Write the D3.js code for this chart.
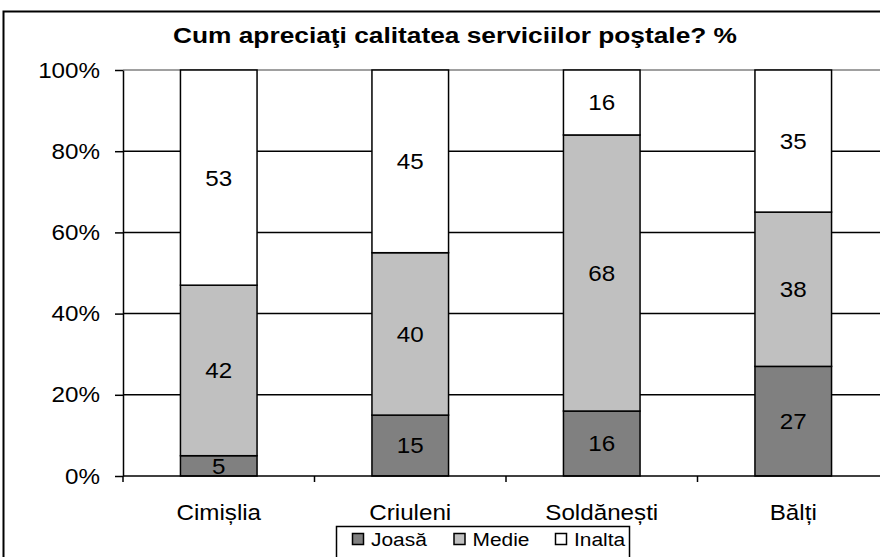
<!DOCTYPE html>
<html>
<head>
<meta charset="utf-8">
<script src="https://cdn.jsdelivr.net/npm/d3@7"></script>
<style>
  html, body { margin: 0; padding: 0; background: #fff; }
  svg { display: block; font-family: Arial, "Liberation Sans", sans-serif; }
</style>
</head>
<body>
<svg id="chart" width="880" height="557"></svg>
<script>
// chart data
const categories = ['Cimișlia', 'Criuleni', 'Soldănești', 'Bălți'];
const seriesNames = ['Joasă', 'Medie', 'Inalta'];
const joasa = [5, 15, 16, 27];
const medie = [42, 40, 68, 38];
const inalta = [53, 45, 16, 35];
const yTicks = [0, 0.2, 0.4, 0.6, 0.8, 1];
const title = 'Cum apreciaţi calitatea serviciilor poştale? %';

const colors = { 'Joasă': '#808080', 'Medie': '#c0c0c0', 'Inalta': '#ffffff' };
const SX = 1.1; // text is a little wider than normal

const svg = d3.select('#chart');
const M = { left: 123, top: 70, right: 889, bottom: 476 };

// build rows for stacking
const rows = categories.map((c, i) => ({ cat: c, 'Joasă': joasa[i], 'Medie': medie[i], 'Inalta': inalta[i] }));
const stack = d3.stack().keys(seriesNames).offset(d3.stackOffsetExpand);
const layers = stack(rows);

const x = d3.scaleBand().domain(categories).range([M.left, M.right]).paddingInner(0.6).paddingOuter(0.3);
const y = d3.scaleLinear().domain([0, 1]).range([M.bottom, M.top]);

// outer chart border
svg.append('rect').attr('x', 3.5).attr('y', 11.5).attr('width', 900).attr('height', 600)
    .attr('fill', 'none').attr('stroke', '#000').attr('stroke-width', 2);

// title
svg.append('text').attr('x', 455).attr('y', 43).attr('text-anchor', 'middle')
    .attr('font-size', 22).attr('font-weight', 'bold').attr('fill', '#000')
    .attr('textLength', 564).attr('lengthAdjust', 'spacingAndGlyphs').text(title);

// gridlines
svg.append('g').selectAll('line').data(yTicks.filter(t => t > 0))
    .join('line')
    .attr('x1', M.left).attr('x2', M.right)
    .attr('y1', d => y(d)).attr('y2', d => y(d))
    .attr('stroke', d => d === 1 ? '#808080' : '#000').attr('stroke-width', 1.5);

// y axis
const yAxis = svg.append('g').attr('transform', `translate(${M.left},0)`)
    .call(d3.axisLeft(y).tickValues(yTicks).tickSize(8).tickSizeOuter(0).tickFormat(d3.format('.0%')));
yAxis.select('.domain').attr('stroke', '#000').attr('stroke-width', 1.5);
yAxis.selectAll('.tick line').attr('stroke', '#000').attr('stroke-width', 1.5);
yAxis.selectAll('.tick text').attr('x', -23 / SX).attr('font-size', 22).attr('fill', '#000')
    .attr('font-family', 'Arial, "Liberation Sans", sans-serif').attr('transform', `scale(${SX},1)`);

// bars
const barG = svg.append('g');
layers.forEach(layer => {
    barG.append('g').selectAll('rect').data(layer).join('rect')
        .attr('x', d => x(d.data.cat))
        .attr('width', x.bandwidth())
        .attr('y', d => y(d[1]))
        .attr('height', d => y(d[0]) - y(d[1]))
        .attr('fill', colors[layer.key])
        .attr('stroke', '#000').attr('stroke-width', 1.5);
});

// x axis line and category boundary ticks
svg.append('line').attr('x1', M.left).attr('x2', M.right).attr('y1', M.bottom).attr('y2', M.bottom)
    .attr('stroke', '#000').attr('stroke-width', 1.5);
svg.append('g').selectAll('line').data(d3.range(categories.length + 1))
    .join('line')
    .attr('x1', i => x.range()[0] + i * x.step()).attr('x2', i => x.range()[0] + i * x.step())
    .attr('y1', M.bottom).attr('y2', M.bottom + 6)
    .attr('stroke', '#000').attr('stroke-width', 1.5);

// value labels
layers.forEach(layer => {
    svg.append('g').selectAll('text').data(layer).join('text')
        .attr('transform', d => `translate(${x(d.data.cat) + x.bandwidth() / 2},${(y(d[0]) + y(d[1])) / 2}) scale(${SX},1)`)
        .attr('dy', '0.36em').attr('text-anchor', 'middle')
        .attr('font-size', 22).attr('fill', '#000')
        .text(d => d.data[layer.key]);
});

// category labels
svg.append('g').selectAll('text').data(categories).join('text')
    .attr('transform', d => `translate(${x(d) + x.bandwidth() / 2},520) scale(${SX},1)`)
    .attr('text-anchor', 'middle').attr('font-size', 22).attr('fill', '#000')
    .text(d => d);

// legend
const lg = svg.append('g');
lg.append('rect').attr('x', 336.5).attr('y', 526.5).attr('width', 293).attr('height', 50)
    .attr('fill', '#fff').attr('stroke', '#000').attr('stroke-width', 1.5);
const items = lg.selectAll('g').data(seriesNames).join('g')
    .attr('transform', (d, i) => `translate(${352 + i * 101.5},0)`);
items.append('rect').attr('x', 0.5).attr('y', 533.5).attr('width', 11).attr('height', 11)
    .attr('fill', d => colors[d]).attr('stroke', '#000').attr('stroke-width', 1.5);
items.append('text').attr('transform', `translate(19,546) scale(${SX},1)`)
    .attr('font-size', 19).attr('fill', '#000').text(d => d);
</script>
</body>
</html>
